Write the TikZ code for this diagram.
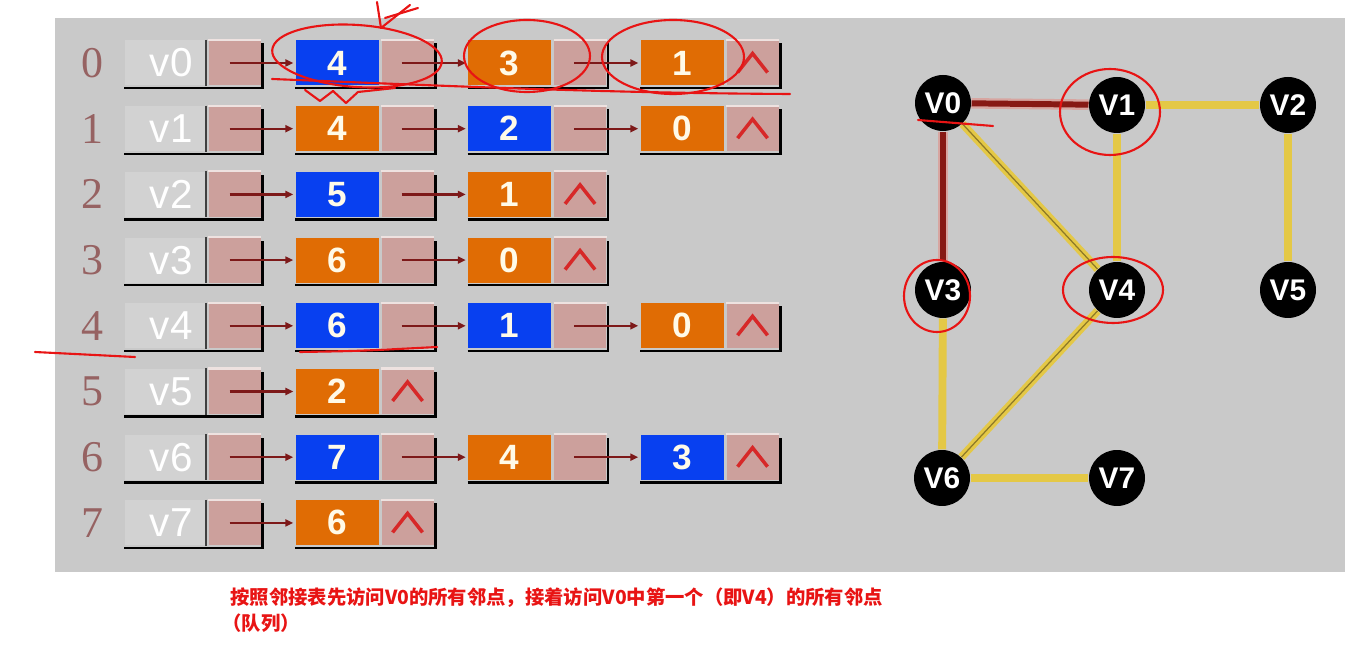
\documentclass[tikz,border=0pt]{standalone}
\usepackage{fontspec}
\setmainfont{Liberation Serif}
\setsansfont{Liberation Sans}
\newfontfamily\cjk{Noto Sans CJK SC}
\usetikzlibrary{positioning,arrows.meta}
\definecolor{bggray}{RGB}{201,201,201}
\definecolor{hdgray}{RGB}{210,210,210}
\definecolor{ptrpink}{RGB}{204,160,156}
\definecolor{valblue}{RGB}{8,64,240}
\definecolor{valorange}{RGB}{224,108,4}
\definecolor{idxbrown}{RGB}{150,98,98}
\definecolor{linkred}{RGB}{125,25,25}
\definecolor{nullred}{RGB}{215,40,40}
\definecolor{edgeyellow}{RGB}{228,200,70}
\definecolor{edgeolive}{RGB}{140,120,40}
\definecolor{edgered}{RGB}{135,25,20}
\definecolor{edgepink}{RGB}{215,165,160}
\definecolor{inkred}{RGB}{232,20,20}
\definecolor{digitcream}{RGB}{255,250,232}
\definecolor{toplight}{RGB}{238,226,224}

\begin{document}
\begin{tikzpicture}[x=0.02cm, y=-0.02cm, line width=0.6pt,
  idx/.style={font=\fontsize{25}{27}\selectfont, text=idxbrown, inner sep=0pt},
  hdcell/.style={fill=hdgray, anchor=west, minimum height=0.9cm, inner ysep=0pt, inner xsep=0.26cm, text width=1.1cm, align=right, text=white, font=\sffamily\fontsize{23}{25}\selectfont},
  valcell/.style={anchor=west, minimum width=1.66cm, minimum height=0.9cm, inner sep=0pt, text=digitcream, font=\sffamily\bfseries\fontsize{20}{22}\selectfont},
  ptrcell/.style={fill=ptrpink, anchor=west, minimum width=1.04cm, minimum height=0.9cm, inner sep=0pt},
  shadow/.style={draw=black, line width=1.4pt},
  hilite/.style={draw=toplight, line width=1.2pt},
  link/.style={-{Triangle[length=4.5pt,width=4pt]}, color=linkred, line width=1.3pt},
  nullmark/.style={draw=nullred, line width=2pt},
  gnode/.style={circle, fill=black, minimum size=1.12cm, inner sep=0pt, text=white, font=\sffamily\bfseries\fontsize{17}{19}\selectfont},
  yedge/.style={draw=edgeyellow, line width=4.5pt},
  yedgeb/.style={yedge, postaction={draw=edgeolive, line width=0.7pt}},
  redge/.style={draw=edgered, line width=3.4pt, preaction={draw=edgepink, line width=6pt}},
  ink/.style={draw=inkred, line width=1.2pt, line cap=round, line join=round},
  caption/.style={font=\cjk\bfseries\fontsize{11}{13}\selectfont, text=inkred, inner sep=0pt, anchor=west}]
\useasboundingbox (0,0) rectangle (1366,671);
\fill[bggray] (55,18) rectangle (1345,572);
% ---- adjacency list: head cells
\foreach \r in {0,...,7}{
  \node[idx] (i\r) at (92,{63+65.7*\r}) {\r};
  \node[hdcell] (h\r) at (124,{63+65.7*\r}) {v\r};
  \node[ptrcell, right=0.04cm of h\r] (p\r) {};
  \draw[hilite] (p\r.north west) -- (p\r.north east);
  \draw[line width=0.8pt, black!75] (h\r.north east) -- (h\r.south east);
  \draw[shadow] ([yshift=-1.2pt]h\r.south west) -| ([xshift=0.8pt,yshift=-2pt]p\r.north east);
}
% ---- adjacency list: edge cells (row/col/vertex/colour/last)
\foreach \r/\c/\v/\col/\last in {0/0/4/valblue/0, 0/1/3/valorange/0, 0/2/1/valorange/1,
    1/0/4/valorange/0, 1/1/2/valblue/0, 1/2/0/valorange/1,
    2/0/5/valblue/0, 2/1/1/valorange/1,
    3/0/6/valorange/0, 3/1/0/valorange/1,
    4/0/6/valblue/0, 4/1/1/valblue/0, 4/2/0/valorange/1,
    5/0/2/valorange/1,
    6/0/7/valblue/0, 6/1/4/valorange/0, 6/2/3/valblue/1,
    7/0/6/valorange/1}{
  \node[valcell, fill=\col] (v\r-\c) at ({295+172.5*\c},{63+65.7*\r}) {\v};
  \node[ptrcell, right=0.04cm of v\r-\c] (q\r-\c) {};
  \draw[hilite] (q\r-\c.north west) -- (q\r-\c.north east);
  \draw[shadow] ([yshift=-1.2pt]v\r-\c.south west) -| ([xshift=0.8pt,yshift=-2pt]q\r-\c.north east);
  \ifnum\c=0
    \draw[link] ([xshift=-0.1cm]p\r.center) -- ([xshift=-1pt]v\r-\c.west);
  \else
    \pgfmathtruncatemacro\pc{\c-1}
    \draw[link] ([xshift=-0.12cm]q\r-\pc.center) -- ([xshift=-1pt]v\r-\c.west);
  \fi
  \ifnum\last=1
    \draw[nullmark] ([xshift=-0.3cm,yshift=-0.19cm]q\r-\c.center) -- ([yshift=0.19cm]q\r-\c.center) -- ([xshift=0.3cm,yshift=-0.19cm]q\r-\c.center);
  \fi
}
% ---- the graph
\node[gnode] (V0) at (943,103) {V0};
\node[gnode] (V1) at (1117,105) {V1};
\node[gnode] (V2) at (1288,105) {V2};
\node[gnode] (V3) at (943,290) {V3};
\node[gnode] (V4) at (1117,290) {V4};
\node[gnode] (V5) at (1288,290) {V5};
\node[gnode] (V6) at (942,478) {V6};
\node[gnode] (V7) at (1117,478) {V7};
\draw[redge] (V0) -- (V1);
\draw[redge] (V0) -- (V3);
\draw[yedge] (V1) -- (V2);
\draw[yedge] (V1) -- (V4);
\draw[yedge] (V2) -- (V5);
\draw[yedge] (V3) -- (V6);
\draw[yedge] (V6) -- (V7);
\draw[yedgeb] (V0) -- (V4);
\draw[yedgeb] (V4) -- (V6);
% ---- hand-drawn red marks
\draw[ink, rotate around={-4:(357,56)}] (357,56) ellipse [x radius=85, y radius=31];
\draw[ink] (527,56) ellipse [x radius=63, y radius=36];
\draw[ink] (673,57) ellipse [x radius=71, y radius=37];
\draw[ink] (272,79) .. controls (450,86) and (600,93) .. (790,94);
\draw[ink] (305,90) -- (320,101) -- (333,91) -- (346,103) -- (358,92) -- (395,88);
\draw[ink] (377,2) -- (381,28) -- (410,5);
\draw[ink] (385,18) -- (418,8);
\draw[ink] (35,352) -- (135,357);
\draw[ink] (300,352) .. controls (360,351) .. (437,347);
\draw[ink] (918,120) -- (993,126);
\draw[ink] (1110,112) ellipse [x radius=50, y radius=43];
\draw[ink] (937,296) ellipse [x radius=33, y radius=36];
\draw[ink] (1113,290) ellipse [x radius=50, y radius=33];
% ---- caption
\node[caption] (cap1) at (230,598) {按照邻接表先访问V0的所有邻点，接着访问V0中第一个（即V4）的所有邻点};
\node[caption] (cap2) at (222,623) {（队列）};
\end{tikzpicture}
\end{document}
